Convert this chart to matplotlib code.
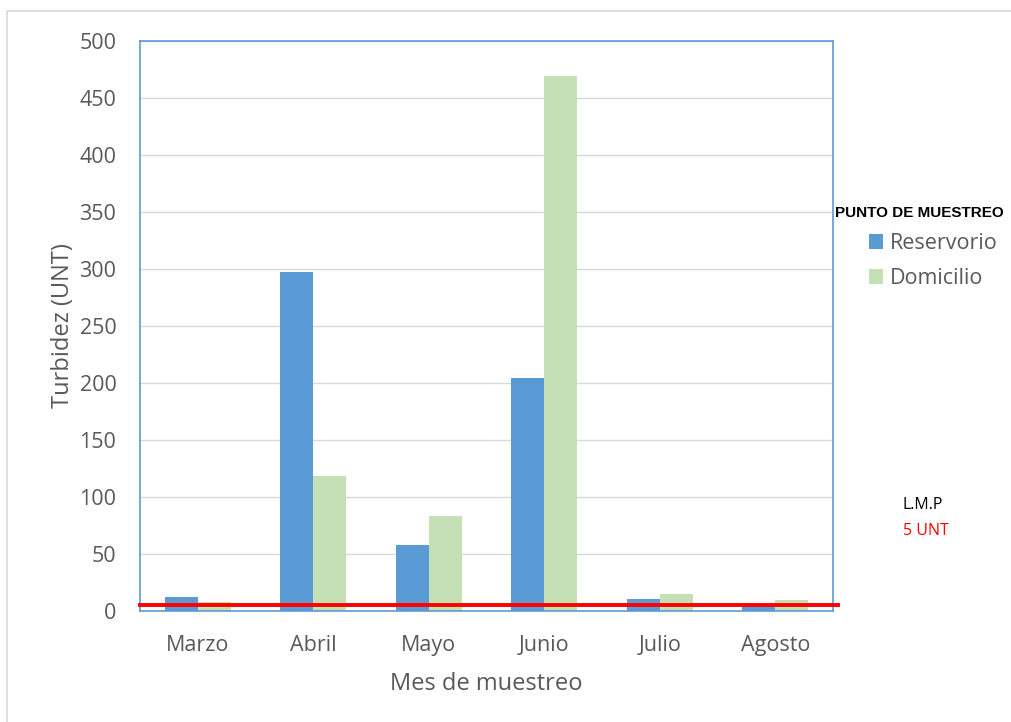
import matplotlib
matplotlib.use("Agg")
import matplotlib.pyplot as plt
import numpy as np
from matplotlib.patches import Rectangle

meses = ["Marzo", "Abril", "Mayo", "Junio", "Julio", "Agosto"]
reservorio = [12.5, 297, 58, 204, 10.5, 4]
domicilio = [7.5, 118, 83, 469, 15, 9.5]
lmp = 5
yticks = list(range(0, 501, 50))

plt.rcParams["font.family"] = ["Open Sans", "DejaVu Sans"]
gris = "#595959"
azul = "#5B9BD5"
verde = "#C5E0B4"

fig = plt.figure(figsize=(10.12, 7.22), dpi=100)
# marco gris exterior
fig.patches.append(Rectangle((7 / 1012, -0.01), 1.02, (722 - 11) / 722 + 0.01,
                             transform=fig.transFigure, fill=False,
                             edgecolor="#D9D9D9", linewidth=1.2))
ax = fig.add_axes([140 / 1012, 111 / 722, 693 / 1012, 570 / 722])

x = np.arange(len(meses))
w = 0.285
ax.bar(x - w / 2, reservorio, w, color=azul, label="Reservorio", zorder=2)
ax.bar(x + w / 2, domicilio, w, color=verde, label="Domicilio", zorder=2)

ax.set_xlim(-0.5, len(meses) - 0.5)
ax.set_ylim(0, 500)
ax.set_yticks(yticks)
ax.set_xticks(x)
ax.set_xticklabels(meses)
ax.yaxis.grid(True, color="#D9D9D9", linewidth=1, zorder=0)
ax.set_axisbelow(True)
for s in ax.spines.values():
    s.set_color(azul)
    s.set_linewidth(1.2)
ax.tick_params(axis="both", length=0, labelsize=15.5, labelcolor=gris)
ax.tick_params(axis="x", pad=17)
ax.tick_params(axis="y", pad=17)

# límite máximo permisible
ax.plot([-0.5, len(meses) - 0.5 + 0.04], [lmp, lmp], color="#FF0000",
        linewidth=2.8, clip_on=False, zorder=4)

ax.set_xlabel("Mes de muestreo", fontsize=17, color=gris, labelpad=12)
ax.set_ylabel("Turbidez (UNT)", fontsize=17, color=gris, labelpad=3)

# leyenda: título aparte, entradas alineadas como en el original
fig.text(835 / 1012, 1 - 213 / 722, "PUNTO DE MUESTREO", ha="left",
         va="center", fontsize=11, fontweight="bold",
         family="Liberation Sans", color="black")
leg = fig.legend(*ax.get_legend_handles_labels(), loc="upper left",
                 bbox_to_anchor=(869 / 1012, 1 - 233 / 722), frameon=False,
                 fontsize=15.5, handlelength=0.65, handleheight=0.65,
                 handletextpad=0.3, labelspacing=0.65, borderaxespad=0.0,
                 borderpad=0.0)
for t in leg.get_texts():
    t.set_color(gris)

fig.text(903 / 1012, 1 - 505 / 722, "L.M.P", ha="left", va="center",
         fontsize=11.5, color="black")
fig.text(903 / 1012, 1 - 531 / 722, "5 UNT", ha="left", va="center",
         fontsize=11.5, color="#FF0000")

fig.savefig("out.png", dpi=100)
